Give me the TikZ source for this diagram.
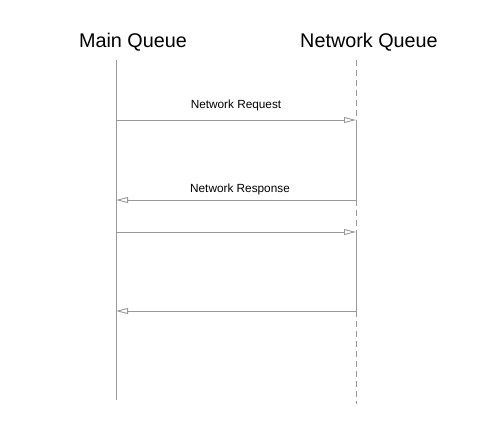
\documentclass[tikz,border=0pt]{standalone}
\usepackage{fontspec}
\setmainfont{Liberation Sans}
\usetikzlibrary{arrows.meta}
\definecolor{linegray}{HTML}{999999}
\begin{document}
\begin{tikzpicture}[x=1pt,y=-1pt,
  title/.style={font=\fontsize{19.8}{22}\selectfont, anchor=base, inner sep=0pt},
  msglabel/.style={font=\fontsize{11.8}{13}\selectfont, anchor=base, inner sep=0pt},
  lifeline/.style={draw=linegray, line width=0.9pt},
  dashline/.style={draw=linegray, line width=0.9pt, dash pattern=on 6pt off 4pt},
  msg/.style={draw=linegray, line width=0.9pt, -{Triangle[open, length=12pt, width=6pt]}}]
\useasboundingbox (0,0) rectangle (500,424);
\node[title] (mq) at (133,47.5) {Main Queue};
\node[title] (nq) at (369,47.5) {Network Queue};
% lifeline anchor points
\coordinate (mtop) at (116,60);
\coordinate (mbot) at (116,400);
\coordinate (ntop) at (356,60);
\coordinate (nbot) at (356,404);
\coordinate (m1) at (116,120);
\coordinate (n1) at (356,120);
\coordinate (m2) at (116,200);
\coordinate (n2) at (356,200);
\coordinate (m3) at (116,232);
\coordinate (n3) at (356,232);
\coordinate (m4) at (116,311);
\coordinate (n4) at (356,311);
% lifelines
\draw[lifeline] (mtop) -- (mbot);
\draw[dashline] (ntop) -- (n1);
\draw[lifeline] (n1) -- (n2);
\draw[dashline] (n2) -- (n3);
\draw[lifeline] (n3) -- (n4);
\draw[dashline] (n4) -- (nbot);
% messages
\draw[msg] (m1) -- (n1);
\draw[msg] (n2) -- (m2);
\draw[msg] (m3) -- (n3);
\draw[msg] (n4) -- (m4);
\node[msglabel] (lreq) at (236,108) {Network Request};
\node[msglabel] (lres) at (240,192) {Network Response};
\end{tikzpicture}
\end{document}
